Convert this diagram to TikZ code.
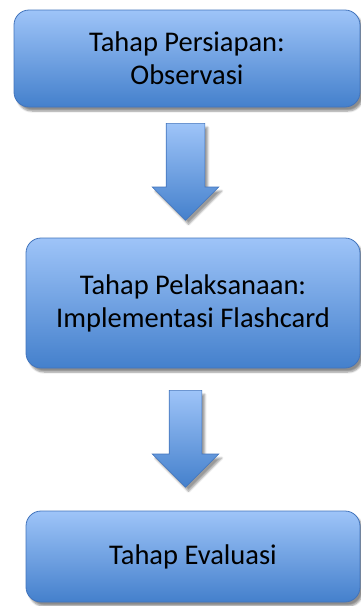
\documentclass[tikz,border=0pt]{standalone}
\usepackage{fontspec}
\setmainfont{Carlito}
\usetikzlibrary{shapes.arrows,shadows.blur}

\definecolor{stepTop}{RGB}{158,196,248}
\definecolor{stepBot}{RGB}{68,128,204}
\definecolor{stepLine}{RGB}{66,116,188}

\tikzset{
  stepbox/.style={rectangle, rounded corners=15pt, draw=stepLine, line width=0.8pt,
    top color=stepTop, bottom color=stepBot, align=center, inner sep=0pt,
    font=\fontsize{28.5}{33}\selectfont,
    blur shadow={shadow xshift=3pt, shadow yshift=-4pt, shadow blur steps=6, shadow opacity=45}},
  downarrow/.style={single arrow, shape border rotate=270, draw=stepLine, line width=0.6pt,
    top color=stepTop, bottom color=stepBot, inner sep=#1,
    minimum height=97pt, single arrow head extend=33pt-#1,
    single arrow tip angle=90, anchor=tail,
    blur shadow={shadow xshift=3pt, shadow yshift=-4pt, shadow blur steps=6, shadow opacity=40}}
}

\begin{document}
\begin{tikzpicture}[x=1pt, y=-1pt]
  \useasboundingbox (0,0) rectangle (361,606);

  % the three stages
  \node[stepbox, minimum width=346pt, minimum height=97pt] (persiapan) at (187,58.5)
    {Tahap Persiapan:\\Observasi};
  \node[stepbox, minimum width=334pt, minimum height=130pt] (pelaksanaan) at (193,303)
    {Tahap Pelaksanaan:\\Implementasi Flashcard};
  \node[stepbox, minimum width=334pt, minimum height=91pt] (evaluasi) at (193,556.5)
    {Tahap Evaluasi};

  % block arrows between them
  \node[downarrow=19pt] (arrA) at (185.5,123) {};
  \node[downarrow=16pt] (arrB) at (185.5,390) {};
\end{tikzpicture}
\end{document}
